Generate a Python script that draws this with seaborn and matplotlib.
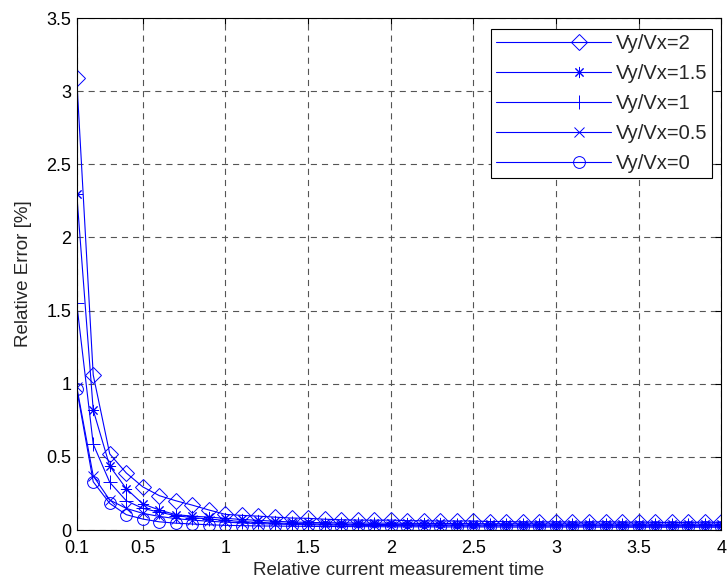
import numpy as np
import pandas as pd
import matplotlib
matplotlib.use("Agg")
import matplotlib.pyplot as plt
from matplotlib.legend_handler import HandlerLine2D
from matplotlib.lines import Line2D
import seaborn as sns

# Relative measurement time grid (0.1 ... 4.0)
t = np.round(np.arange(0.1, 4.01, 0.1), 1)

err_r2 = [3.09, 1.06, 0.52, 0.39, 0.295, 0.235, 0.200, 0.170, 0.137, 0.107,
          0.100, 0.095, 0.088, 0.082, 0.080, 0.074, 0.070, 0.068, 0.067, 0.068,
          0.064, 0.063, 0.062, 0.062, 0.062, 0.058, 0.058, 0.055, 0.055, 0.056,
          0.054, 0.054, 0.057, 0.053, 0.055, 0.052, 0.052, 0.052, 0.054, 0.052]
err_r15 = [2.30, 0.82, 0.437, 0.283, 0.178, 0.137, 0.105, 0.095, 0.088, 0.080,
           0.072, 0.066, 0.060, 0.055, 0.052, 0.050, 0.049, 0.048, 0.047, 0.047,
           0.046, 0.045, 0.045, 0.044, 0.044, 0.043, 0.043, 0.043, 0.042, 0.042,
           0.042, 0.041, 0.041, 0.041, 0.041, 0.040, 0.040, 0.040, 0.040, 0.040]
err_r1 = [1.55, 0.587, 0.326, 0.200, 0.148, 0.122, 0.098, 0.085, 0.075, 0.066,
          0.058, 0.052, 0.048, 0.045, 0.043, 0.041, 0.040, 0.039, 0.038, 0.037,
          0.037, 0.036, 0.036, 0.035, 0.035, 0.035, 0.034, 0.034, 0.034, 0.034,
          0.033, 0.033, 0.033, 0.033, 0.033, 0.032, 0.032, 0.032, 0.032, 0.032]
err_r05 = [0.98, 0.370, 0.205, 0.148, 0.114, 0.093, 0.078, 0.068, 0.060, 0.054,
           0.048, 0.044, 0.041, 0.038, 0.036, 0.034, 0.033, 0.032, 0.031, 0.030,
           0.030, 0.029, 0.029, 0.029, 0.028, 0.028, 0.028, 0.028, 0.027, 0.027,
           0.027, 0.027, 0.027, 0.026, 0.026, 0.026, 0.026, 0.026, 0.026, 0.026]
err_r0 = [0.965, 0.330, 0.182, 0.105, 0.075, 0.056, 0.047, 0.041, 0.036, 0.032,
          0.030, 0.028, 0.027, 0.026, 0.025, 0.024, 0.024, 0.023, 0.023, 0.022,
          0.022, 0.022, 0.021, 0.021, 0.021, 0.021, 0.020, 0.020, 0.020, 0.020,
          0.020, 0.020, 0.019, 0.019, 0.019, 0.019, 0.019, 0.019, 0.019, 0.019]

series_labels = ["Vy/Vx=2", "Vy/Vx=1.5", "Vy/Vx=1", "Vy/Vx=0.5", "Vy/Vx=0"]
series_values = [err_r2, err_r15, err_r1, err_r05, err_r0]
series_markers = ["D", (8, 2, 0), "+", "x", "o"]
series_msize = [8, 8, 10, 6.5, 8.5]

x_ticks = [0.1, 0.5, 1, 1.5, 2, 2.5, 3, 3.5, 4]
x_ticklabels = ["0.1", "0.5", "1", "1.5", "2", "2.5", "3", "3.5", "4"]
y_ticks = [0, 0.5, 1, 1.5, 2, 2.5, 3, 3.5]
y_ticklabels = ["0", "0.5", "1", "1.5", "2", "2.5", "3", "3.5"]


class OffsetMarkerHandler(HandlerLine2D):
    """Legend line whose single marker sits toward the right end of the sample."""

    def create_artists(self, legend, orig_handle, xdescent, ydescent,
                       width, height, fontsize, trans):
        artists = super().create_artists(legend, orig_handle, xdescent, ydescent,
                                         width, height, fontsize, trans)
        for a in artists:
            x = np.asarray(a.get_xdata(), dtype=float)
            if len(x) == 3:
                a.set_xdata([x[0], x[0] + 0.72 * (x[2] - x[0]), x[2]])
        return artists


sns.set_theme(style="white")
plt.rcParams["font.family"] = ["Liberation Sans", "DejaVu Sans"]
plt.rcParams["font.size"] = 13

fig = plt.figure(figsize=(7.27, 5.82), dpi=100)
ax = fig.add_axes([0.1055, 0.0893, 0.8865, 0.8797])

for lab, vals, mk, ms in zip(series_labels, series_values, series_markers, series_msize):
    df = pd.DataFrame({"t": t, "err": vals})
    sns.lineplot(data=df, x="t", y="err", ax=ax, color="blue", lw=0.8,
                 marker=mk, markersize=ms, markerfacecolor="none",
                 markeredgecolor="blue", markeredgewidth=0.7, label=lab)

ax.set_xlim(0.1, 4)
ax.set_ylim(0, 3.5)
ax.set_xticks(x_ticks)
ax.set_xticklabels(x_ticklabels)
ax.set_yticks(y_ticks)
ax.set_yticklabels(y_ticklabels)
ax.tick_params(direction="in", length=4, width=0.8, colors="black",
               labelsize=13, top=True, right=True)
ax.tick_params(axis="x", pad=7)
ax.tick_params(axis="y", pad=4)
ax.grid(True, color="#555555", linestyle=(0, (5.5, 4.5)), linewidth=0.8)
for s in ax.spines.values():
    s.set_color("black")
    s.set_linewidth(0.8)

ax.set_xlabel("Relative current measurement time", fontsize=13.5, labelpad=4)
ax.set_ylabel("Relative Error [%]", fontsize=13.5, labelpad=10)

handles, labels = ax.get_legend_handles_labels()
leg = ax.legend(handles, labels, loc="upper right", bbox_to_anchor=(0.986, 0.979),
                fontsize=14.5, handlelength=5.67, frameon=True, fancybox=False,
                framealpha=1, edgecolor="black", borderpad=0.25, labelspacing=0.55,
                handletextpad=0.25, borderaxespad=0,
                handler_map={Line2D: OffsetMarkerHandler()})
leg.get_frame().set_linewidth(0.8)

fig.savefig("out.png", dpi=100)
